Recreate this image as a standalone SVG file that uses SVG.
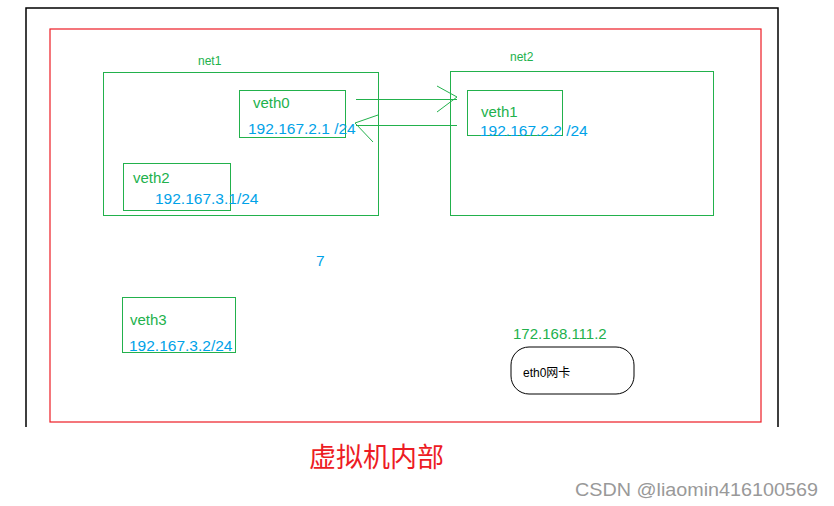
<svg xmlns="http://www.w3.org/2000/svg" width="834" height="506" viewBox="0 0 834 506">
<style>
.g{fill:none;stroke:#22b14c;stroke-width:1;shape-rendering:crispEdges}
.tg{fill:#22b14c;font-family:"Liberation Sans",Arial,sans-serif;font-size:15px}
.tb{fill:#00a2e8;font-family:"Liberation Sans",Arial,sans-serif;font-size:15.5px}
.sm{font-size:12px}
</style>
<rect width="834" height="506" fill="#fff"/>
<path d="M26,427V8H778V427" fill="none" stroke="#000" stroke-width="1.5"/>
<rect x="50" y="29" width="711" height="393" fill="none" stroke="#ed1c24" stroke-width="1.2"/>
<g id="net1"><rect class="g" x="103.5" y="72.5" width="275" height="143"/><text class="tg sm" x="198" y="65">net1</text></g>
<g id="net2"><rect class="g" x="450.5" y="71.5" width="263" height="144"/><text class="tg sm" x="510" y="61">net2</text></g>
<g id="veth0"><rect class="g" x="239.5" y="90.5" width="106" height="47"/><text class="tg" x="253" y="108">veth0</text><text class="tb" x="248" y="134">192.167.2.1 /24</text></g>
<g id="veth1"><rect class="g" x="467.5" y="90.5" width="95" height="45"/><text class="tg" x="481" y="117">veth1</text><text class="tb" x="480" y="136">192.167.2.2 /24</text></g>
<g id="veth2"><rect class="g" x="123.5" y="163.5" width="107" height="47"/><text class="tg" x="133" y="183">veth2</text><text class="tb" x="155" y="204">192.167.3.1/24</text></g>
<g id="veth3"><rect class="g" x="122.5" y="297.5" width="113" height="55"/><text class="tg" x="130" y="325">veth3</text><text class="tb" x="129" y="351">192.167.3.2/24</text></g>
<g id="eth0"><text class="tg" x="513" y="339">172.168.111.2</text><rect x="511" y="347" width="123" height="47" rx="18" fill="none" stroke="#000" stroke-width="1"/><text x="523" y="377" font-family="Liberation Sans,'Noto Sans CJK SC',sans-serif" font-size="12">eth0网卡</text></g>
<text class="tb" x="316" y="266">7</text>
<g id="connectors" fill="none" stroke="#22b14c" stroke-width="1">
<path d="M356,99.5H457M437,86L457,97L437,112"/>
<path d="M457,125.5H356M378,115L355,123L373,142"/>
</g>
<text x="309" y="467" fill="#ed1c24" font-family="'Noto Sans CJK SC',sans-serif" font-size="27">虚拟机内部</text>
<text x="575" y="496" fill="#999" font-family="'Liberation Sans',Arial,sans-serif" font-size="17.5" textLength="243" lengthAdjust="spacingAndGlyphs">CSDN @liaomin416100569</text>
</svg>
